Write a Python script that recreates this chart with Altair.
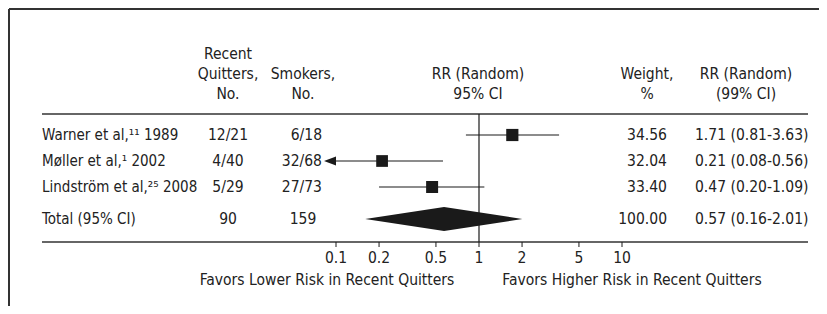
import altair as alt
import pandas as pd

# ---- data ----
studies = ["Warner et al,\u00b9\u00b9 1989", "M\u00f8ller et al,\u00b9 2002", "Lindstr\u00f6m et al,\u00b2\u2075 2008"]
quitters = ["12/21", "4/40", "5/29"]
smokers = ["6/18", "32/68", "27/73"]
rr = [1.71, 0.21, 0.47]
rr_lo = [0.81, 0.08, 0.20]
rr_hi = [3.63, 0.56, 1.09]
weights = [34.56, 32.04, 33.40]

total_label = "Total (95% CI)"
total_quitters = "90"
total_smokers = "159"
total_rr = 0.57
total_lo = 0.16
total_hi = 2.01
total_weight = 100.00

tick_values = [0.1, 0.2, 0.5, 1, 2, 5, 10]
tick_labels = ["0.1", "0.2", "0.5", "1", "2", "5", "10"]

headers = [["Recent", "Quitters,", "No."], ["Smokers,", "No."], ["RR (Random)", "95% CI"],
           ["Weight,", "%"], ["RR (Random)", "(99% CI)"]]
favors = ["Favors Lower Risk in Recent Quitters", "Favors Higher Risk in Recent Quitters"]

# ---- styling ----
FONT = "DejaVu Sans Condensed, Liberation Sans Narrow, sans-serif"
FS = 15.5
TXT = "#222222"
INK = "#1a1a1a"
W, H = 811, 298
LH = 20

study_df = pd.DataFrame({
    "row": list(range(len(studies))),
    "study": studies,
    "quitters": quitters,
    "smokers": smokers,
    "rr": rr,
    "lo": rr_lo,
    "hi": rr_hi,
    "weight": weights,
})
study_df["weight_txt"] = study_df["weight"].map(lambda v: f"{v:.2f}")
study_df["ci_txt"] = [f"{a:.2f} ({b:.2f}-{c:.2f})" for a, b, c in zip(rr, rr_lo, rr_hi)]

total_row = len(studies)
total_df = pd.DataFrame({
    "row": [total_row],
    "study": [total_label],
    "quitters": [total_quitters],
    "smokers": [total_smokers],
    "weight_txt": [f"{total_weight:.2f}"],
    "ci_txt": [f"{total_rr:.2f} ({total_lo:.2f}-{total_hi:.2f})"],
})
all_df = pd.concat([study_df, total_df], ignore_index=True)

DIAMOND_HALF = 0.375
diamond_df = pd.DataFrame({
    "x": [total_lo, total_rr, total_hi],
    "y1": [total_row, total_row - DIAMOND_HALF, total_row],
    "y2": [total_row, total_row + DIAMOND_HALF, total_row],
})

ticks_df = pd.DataFrame({"v": tick_values, "lab": tick_labels})

xs = alt.Scale(type="log", domain=[0.1, 10], range=[328, 614], clamp=True, nice=False)
ys = alt.Scale(domain=[0, 1, 2, 3], range=[127, 153, 179, 211], nice=False, zero=False)

X = lambda f: alt.X(f, type="quantitative", scale=xs, axis=None)
Y = lambda f: alt.Y(f, type="quantitative", scale=ys, axis=None)

base_txt = dict(font=FONT, fontSize=FS, color=TXT, baseline="middle")

def one(value=0):
    return pd.DataFrame({"d": [value]})

layers = []

# frame
layers.append(alt.Chart(one()).mark_rule(color="#333333", strokeWidth=2).encode(
    x=alt.value(1), x2=alt.value(W), y=alt.value(1)))
layers.append(alt.Chart(one()).mark_rule(color="#333333", strokeWidth=2).encode(
    x=alt.value(1), y=alt.value(1), y2=alt.value(H)))

# table rules
for yy in (106, 234):
    layers.append(alt.Chart(one()).mark_rule(color="#333333", strokeWidth=1.3).encode(
        x=alt.value(34), x2=alt.value(800), y=alt.value(yy)))

# line of no effect
layers.append(alt.Chart(pd.DataFrame({"v": [1]})).mark_rule(color=INK, strokeWidth=1.2).encode(
    x=X("v"), y=alt.value(106), y2=alt.value(234)))

# headers (bottom lines aligned)
hdr_x = [220, 295, 470, 639, 738]
LAST_LINE_Y = 86
for lines, hx in zip(headers, hdr_x):
    n = len(lines)
    for i, ln in enumerate(lines):
        layers.append(alt.Chart(one()).mark_text(text=ln, align="center", **base_txt).encode(
            x=alt.value(hx), y=alt.value(LAST_LINE_Y - (n - 1 - i) * LH)))

# table text columns
label_txt = dict(base_txt, fontSize=15)
layers.append(alt.Chart(all_df).mark_text(align="left", **label_txt).encode(
    x=alt.value(34), y=Y("row"), text="study:N"))
layers.append(alt.Chart(all_df).mark_text(align="center", **base_txt).encode(
    x=alt.value(220), y=Y("row"), text="quitters:N"))
layers.append(alt.Chart(study_df).mark_text(align="right", **base_txt).encode(
    x=alt.value(314), y=Y("row"), text="smokers:N"))
layers.append(alt.Chart(total_df).mark_text(align="center", **base_txt).encode(
    x=alt.value(295), y=Y("row"), text="smokers:N"))
layers.append(alt.Chart(all_df).mark_text(align="right", **base_txt).encode(
    x=alt.value(659), y=Y("row"), text="weight_txt:N"))
layers.append(alt.Chart(all_df).mark_text(align="left", **base_txt).encode(
    x=alt.value(687), y=Y("row"), text="ci_txt:N"))

# CI lines
layers.append(alt.Chart(study_df).mark_rule(color=INK, strokeWidth=1.2).encode(
    x=X("lo"), x2="hi", y=Y("row")))
# arrow for truncated CI
arrow = "M -1 0 L 0 -0.38 L 0 0.38 Z"
layers.append(alt.Chart(study_df).transform_filter("datum.lo < 0.1").mark_point(
    shape=arrow, filled=True, fill=INK, opacity=1, size=576).encode(
    x=X("lo"), y=Y("row")))
# squares
layers.append(alt.Chart(study_df).mark_square(filled=True, color=INK, opacity=1).encode(
    x=X("rr"), y=Y("row"),
    size=alt.Size("weight:Q", scale=alt.Scale(domain=[0, 100], range=[0, 430]), legend=None)))
# diamond
layers.append(alt.Chart(diamond_df).mark_area(color=INK, opacity=1, interpolate="linear").encode(
    x=X("x"), y=Y("y1"), y2="y2"))

# ticks
layers.append(alt.Chart(ticks_df).mark_rule(color=INK, strokeWidth=1).encode(
    x=X("v"), y=alt.value(234), y2=alt.value(239)))
layers.append(alt.Chart(ticks_df).mark_text(align="center", **base_txt).encode(
    x=X("v"), y=alt.value(250), text="lab:N"))

# favors captions
for t, cx in zip(favors, [319, 624]):
    layers.append(alt.Chart(one()).mark_text(text=t, align="center", **base_txt).encode(
        x=alt.value(cx), y=alt.value(272)))

chart = alt.layer(*layers).properties(
    width=W, height=H, autosize=alt.AutoSizeParams(type="none"), padding=0
).configure_view(stroke=None)

chart.save("out.html", embed_options={"renderer": "svg", "actions": False})
